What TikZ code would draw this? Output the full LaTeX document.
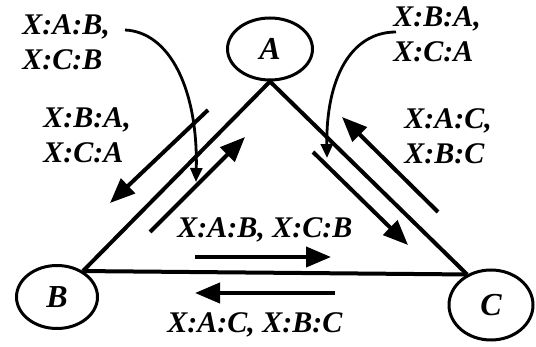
\documentclass[tikz,border=0pt]{standalone}
\usepackage{fontspec}
\setmainfont{Liberation Serif}
\usetikzlibrary{arrows.meta,shapes.geometric}

\begin{document}
\begin{tikzpicture}[
  x=0.5pt, y=-0.5pt,
  >={Triangle[length=12.5pt,width=10pt]},
  every node/.style={font=\fontsize{15}{17.5}\selectfont\bfseries\itshape},
  site/.style={draw, ellipse, line width=1.5pt, inner sep=0pt, font=\fontsize{16}{18}\selectfont\bfseries\itshape},
  tag/.style={anchor=north west, inner sep=0pt, align=left},
  side/.style={line width=2pt},
  flow/.style={->, line width=2pt},
  pointer/.style={-{Triangle[length=7pt,width=6pt]}, line width=1.4pt},
]
  \useasboundingbox (0,0) rectangle (536,347);

  % Sites
  \node[site, minimum width=42.5pt, minimum height=31pt] (A) at (270,49) {A};
  \node[site, minimum width=40.5pt, minimum height=31.5pt] (B) at (57,297) {B};
  \node[site, minimum width=42pt, minimum height=35pt] (C) at (491,305) {C};

  % Triangle
  \draw[side] (B.45) -- (A.south) -- (C.128);
  \draw[side] (B.45) -- (C.128);

  % Labels
  \node[tag] (lab1) at (22,14) {X:A:B,\\X:C:B};
  \node[tag] (lba1) at (43,107) {X:B:A,\\X:C:A};
  \node[tag] (lba2) at (393,6) {X:B:A,\\X:C:A};
  \node[tag] (lac1) at (404,108) {X:A:C,\\X:B:C};
  \node[tag] (lab2) at (177,217) {X:A:B, X:C:B};
  \node[tag] (lac2) at (167,312) {X:A:C, X:B:C};

  % Flows along A--B
  \draw[flow] (208,110) -- (110,203);
  \draw[flow] (150,232) -- (245,137);

  % Flows along A--C
  \draw[flow] (313,152) -- (408,245);
  \draw[flow] (438,212) -- (342,117);

  % Flows along B--C
  \draw[flow] (195,257) -- (331,257);
  \draw[flow] (335,293) -- (195,293);

  % Pointers
  \draw[pointer] (125,30) .. controls (170,32) and (198,90) .. (196,182);
  \draw[pointer] (396,32) .. controls (350,32) and (326,80) .. (327,158);
\end{tikzpicture}
\end{document}
